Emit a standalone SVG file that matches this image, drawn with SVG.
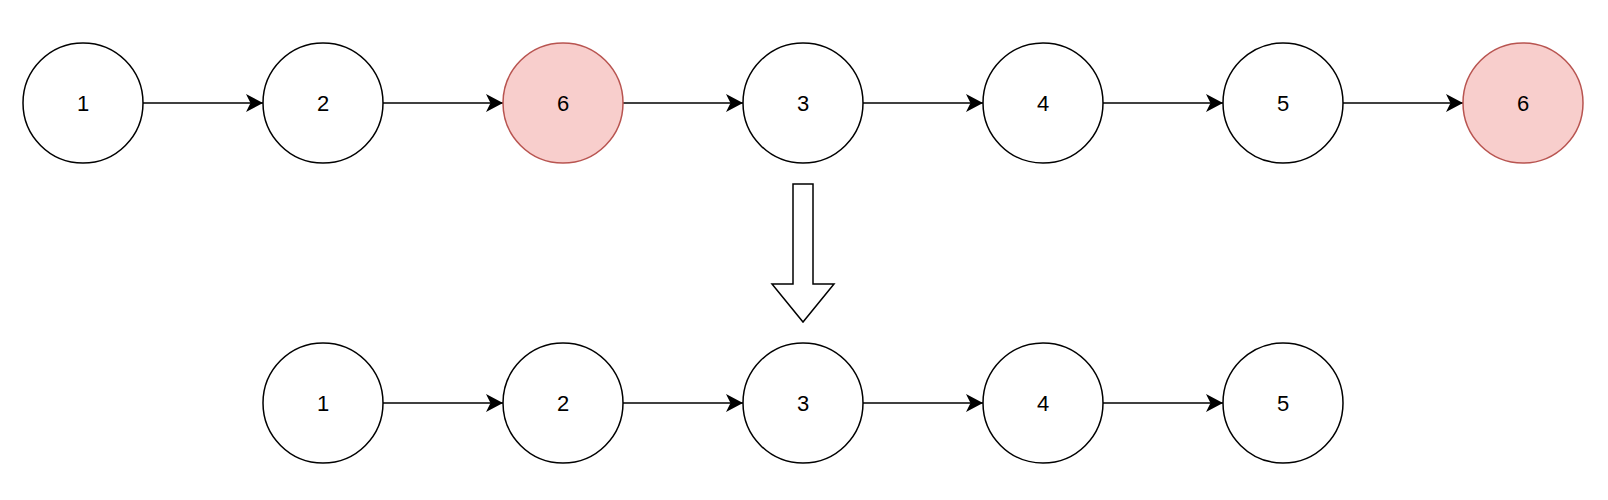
<svg xmlns="http://www.w3.org/2000/svg" width="1608" height="500" viewBox="0 0 1608 500">
<style>
.n{fill:#ffffff;stroke:#000000;stroke-width:1.5}
.r{fill:#f8cecc;stroke:#b85450;stroke-width:1.5}
.t{font-family:"Liberation Sans",Arial,sans-serif;font-size:22px;fill:#000000;text-anchor:middle}
.e{stroke:#000000;stroke-width:1.5;fill:none;marker-end:url(#ah)}
</style>
<defs>
<marker id="ah" markerUnits="userSpaceOnUse" markerWidth="18" markerHeight="18" viewBox="0 0 18 18" refX="17" refY="9" orient="auto">
<path d="M0,0 L17,9 L0,18 L4.5,9 Z" fill="#000000"/>
</marker>
<path id="c" d="M-60,0 A60,60 0 1,1 60,0 A60,60 0 1,1 -60,0 Z"/>
</defs>
<rect width="1608" height="500" fill="#ffffff"/>
<g id="connectors">
<line class="e" x1="143" y1="103" x2="263" y2="103"/>
<line class="e" x1="383" y1="103" x2="503" y2="103"/>
<line class="e" x1="623" y1="103" x2="743" y2="103"/>
<line class="e" x1="863" y1="103" x2="983" y2="103"/>
<line class="e" x1="1103" y1="103" x2="1223" y2="103"/>
<line class="e" x1="1343" y1="103" x2="1463" y2="103"/>
<line class="e" x1="383" y1="403" x2="503" y2="403"/>
<line class="e" x1="623" y1="403" x2="743" y2="403"/>
<line class="e" x1="863" y1="403" x2="983" y2="403"/>
<line class="e" x1="1103" y1="403" x2="1223" y2="403"/>
</g>
<g id="blockArrow">
<path d="M793,184 L813,184 L813,284 L834,284 L803,322 L772,284 L793,284 Z" fill="#ffffff" stroke="#000000" stroke-width="1.5" stroke-linejoin="miter"/>
</g>
<g id="t1"><use href="#c" class="n" x="83" y="103"/><text class="t" x="83" y="111">1</text></g>
<g id="t2"><use href="#c" class="n" x="323" y="103"/><text class="t" x="323" y="111">2</text></g>
<g id="t6a"><use href="#c" class="r" x="563" y="103"/><text class="t" x="563" y="111">6</text></g>
<g id="t3"><use href="#c" class="n" x="803" y="103"/><text class="t" x="803" y="111">3</text></g>
<g id="t4"><use href="#c" class="n" x="1043" y="103"/><text class="t" x="1043" y="111">4</text></g>
<g id="t5"><use href="#c" class="n" x="1283" y="103"/><text class="t" x="1283" y="111">5</text></g>
<g id="t6b"><use href="#c" class="r" x="1523" y="103"/><text class="t" x="1523" y="111">6</text></g>
<g id="b1"><use href="#c" class="n" x="323" y="403"/><text class="t" x="323" y="411">1</text></g>
<g id="b2"><use href="#c" class="n" x="563" y="403"/><text class="t" x="563" y="411">2</text></g>
<g id="b3"><use href="#c" class="n" x="803" y="403"/><text class="t" x="803" y="411">3</text></g>
<g id="b4"><use href="#c" class="n" x="1043" y="403"/><text class="t" x="1043" y="411">4</text></g>
<g id="b5"><use href="#c" class="n" x="1283" y="403"/><text class="t" x="1283" y="411">5</text></g>
</svg>
